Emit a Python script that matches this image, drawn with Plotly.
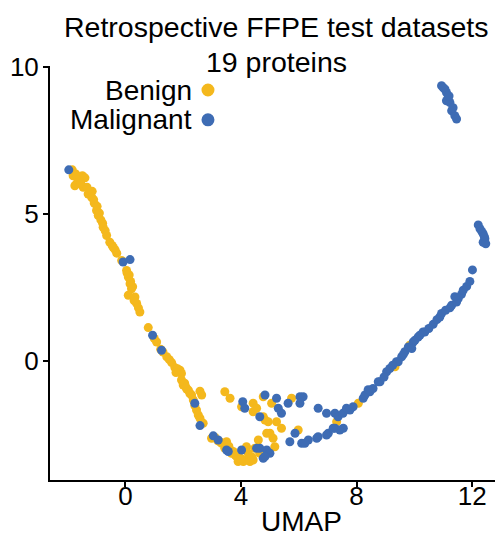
import plotly.graph_objects as go

benign_x = [-1.84, -1.81, -1.75, -1.69, -1.49, -1.40, -1.46, -1.29, -1.15, -1.17, -1.08, -1.00, -0.94, -0.85,
            -0.79, -0.77, -0.65, -0.54, -0.46, -0.36, -0.30, -0.13, 0.04, 0.10, 0.16, 0.21, 0.10, 0.33, 0.39,
            0.50, 0.79, 1.08, 1.22, 1.43, 1.60, 1.71, 1.89, 1.94, 1.94, 2.00, 2.12, 2.23, 2.29, 2.35, 2.58,
            2.64, 2.46, 2.52, 2.58, 2.69,
            3.44, 3.62, 4.02, 4.42, 4.54, 4.42, 4.77, 4.83, 4.94, 5.23, 5.40, 5.00, 5.11, 4.60, 5.17, 4.77,
            5.06, 5.75, 5.98, 4.89,
            2.98, 3.33, 3.50, 3.44, 3.62, 3.67, 3.73, 3.85, 3.90, 4.08, 4.19, 4.25, 4.19, 4.31, 4.42, 4.65,
            4.48, 3.96, 3.27,
            7.31, 8.06, 9.33, 9.84,
            -1.62, -1.33, -1.10, -0.90, -0.70, -0.42, 0.13, 0.25, 0.30, 0.45, 1.00, 1.30, 1.52, 1.80, 2.05,
            2.18, 2.40, 3.20, 3.80, 4.00, 4.38, -1.72, -1.55, -0.98, 0.06, 0.18, 1.75, 2.10, 3.10, 3.58]
benign_y = [6.49, 6.29, 5.95, 6.02, 6.29, 6.22, 5.90, 5.67, 5.76, 5.56, 5.36, 5.11, 4.94, 4.79,
            4.68, 4.54, 4.26, 4.03, 3.92, 3.78, 3.66, 3.41, 3.07, 2.85, 2.62, 2.45, 2.23, 2.17, 1.95,
            1.66, 1.13, 0.64, 0.39, 0.14, -0.06, -0.23, -0.32, -0.43, -0.65, -0.82, -0.96, -1.11, -1.16, -1.33, -1.03,
            -1.16, -1.67, -1.84, -1.95, -2.12,
            -1.05, -1.27, -1.56, -1.44, -1.61, -1.73, -1.90, -2.01, -2.07, -2.07, -2.29, -2.46, -2.63, -2.69, -2.92, -1.22,
            -1.44, -1.27, -2.35, -2.46,
            -2.63, -2.80, -2.75, -2.97, -3.03, -3.14, -3.08, -3.25, -3.42, -3.42, -2.92, -3.14, -3.37, -3.42, -3.37, -3.14,
            -2.97, -3.31, -2.75,
            -2.07, -1.44, -0.20, 0.53,
            6.10, 5.90, 5.48, 5.02, 4.42, 3.85, 2.92, 2.52, 2.05, 1.80, 0.76, 0.30, 0.04, -0.27, -0.76,
            -1.00, -1.52, -2.72, -3.20, -3.32, -3.27, 6.35, 6.05, 5.25, 2.98, 2.70, -0.40, -0.90, -2.60, -2.90]

malignant_x = [-1.96, -0.08, 0.16, 0.94, 1.25, 2.40, 2.58, 3.04, 3.21, 3.50, 4.02, 4.06, 4.13, 4.65, 4.83,
               5.23, 5.29, 5.40, 5.63, 6.04, 6.15, 6.04, 6.67, 6.96, 7.25, 7.25, 7.02, 6.62, 6.33, 6.10,
               5.69, 5.87, 4.65, 4.89, 5.00, 4.77, 4.83, 4.54, 7.36, 7.53, 7.65, 7.77, 7.88, 8.23, 8.46,
               8.57, 8.81, 9.04, 9.15, 9.44, 9.56, 9.67, 9.79, 7.54, 7.42, 7.19, 6.96, 6.67, 6.21, 9.96,
               9.91, 10.13, 10.30, 10.36, 10.65, 10.88, 10.94, 11.23, 11.29, 11.46, 11.52, 11.63, 11.69, 11.81, 11.92,
               12.01, 12.21, 12.27, 12.38, 12.44, 12.38, 12.47, 12.33, 12.42,
               10.94, 11.06, 11.11, 11.17, 11.11, 11.23, 11.29, 11.40, 11.46, 11.00, 11.20, 11.34,
               9.38, 10.02, 10.19, 3.56, 8.29, 8.75, 8.40, 9.25, 10.50, 10.78, 11.08, 11.40, 8.95, 9.62]
malignant_y = [6.49, 3.36, 3.44, 0.87, 0.36, -1.44, -2.20, -2.55, -2.69, -3.03, -3.03, -1.39, -1.61, -1.90, -1.16,
               -1.27, -1.61, -1.78, -1.44, -1.22, -1.22, -1.44, -1.61, -1.78, -1.78, -2.29, -2.46, -2.63, -2.69, -2.80,
               -2.75, -2.46, -2.97, -3.03, -3.14, -3.31, -3.25, -2.97, -1.90, -1.78, -1.61, -1.67, -1.56, -1.27, -1.05,
               -0.94, -0.71, -0.37, -0.26, -0.03, 0.14, 0.31, 0.47, -2.29, -2.35, -2.29, -2.52, -2.58, -2.80, 0.64,
               0.42, 0.81, 0.98, 0.98, 1.24, 1.49, 1.61, 1.80, 1.89, 2.00, 2.12, 2.26, 2.40, 2.53, 2.70,
               3.09, 4.62, 4.49, 4.32, 4.15, 4.03, 3.98, 4.40, 4.22,
               9.35, 9.23, 9.12, 8.95, 8.84, 8.78, 8.50, 8.33, 8.22, 9.28, 9.00, 8.60,
               -0.03, 0.70, 0.87, -3.08, -1.16, -0.71, -0.98, -0.15, 1.10, 1.40, 1.72, 2.18, -0.55, 0.22]

YELLOW = "#F4B81D"
BLUE = "#3E6CB4"
FONT = "Liberation Sans, Arial, sans-serif"

fig = go.Figure()
fig.add_trace(go.Scatter(x=benign_x, y=benign_y, mode="markers", name="Benign",
                         marker=dict(color=YELLOW, size=9, line=dict(width=0))))
fig.add_trace(go.Scatter(x=malignant_x, y=malignant_y, mode="markers", name="Malignant",
                         marker=dict(color=BLUE, size=9, line=dict(width=0))))

axis_common = dict(showgrid=False, zeroline=False, showline=True, linecolor="black", linewidth=2,
                   ticks="outside", ticklen=5, tickwidth=2, tickcolor="black",
                   tickfont=dict(family=FONT, size=26, color="black"))
fig.update_xaxes(range=[-2.61, 12.79], tickvals=[0, 4, 8, 12], ticklabelstandoff=-13, **axis_common)
fig.update_yaxes(range=[-4.05, 10.02], tickvals=[0, 5, 10], ticklabelstandoff=-1, **axis_common)

annotations = [
    dict(text="Retrospective FFPE test datasets", x=0.51, y=1.093, xref="paper", yref="paper",
         xanchor="center", yanchor="middle", showarrow=False, font=dict(family=FONT, size=28.5, color="black")),
    dict(text="19 proteins", x=0.51, y=1.01, xref="paper", yref="paper",
         xanchor="center", yanchor="middle", showarrow=False, font=dict(family=FONT, size=28.5, color="black")),
    dict(text="UMAP", x=0.566, y=-0.101, xref="paper", yref="paper", xanchor="center", yanchor="middle",
         showarrow=False, font=dict(family=FONT, size=28, color="black")),
    dict(text="Benign", x=0.3236, y=0.942, xref="paper", yref="paper", xanchor="right", yanchor="middle",
         showarrow=False, font=dict(family=FONT, size=28, color="black")),
    dict(text="Malignant", x=0.3236, y=0.870, xref="paper", yref="paper", xanchor="right", yanchor="middle",
         showarrow=False, font=dict(family=FONT, size=28, color="black")),
]
shapes = []
for yc, col in [(0.942, YELLOW), (0.870, BLUE)]:
    shapes.append(dict(type="circle", xref="paper", yref="paper", x0=0.355 - 0.0146, x1=0.355 + 0.0146,
                       y0=yc - 0.0157, y1=yc + 0.0157, fillcolor=col, line=dict(width=0)))

fig.update_layout(width=495, height=537, margin=dict(l=50, r=0, t=66, b=57),
                  plot_bgcolor="white", paper_bgcolor="white", showlegend=False,
                  annotations=annotations, shapes=shapes)
fig.write_html("out.html")
